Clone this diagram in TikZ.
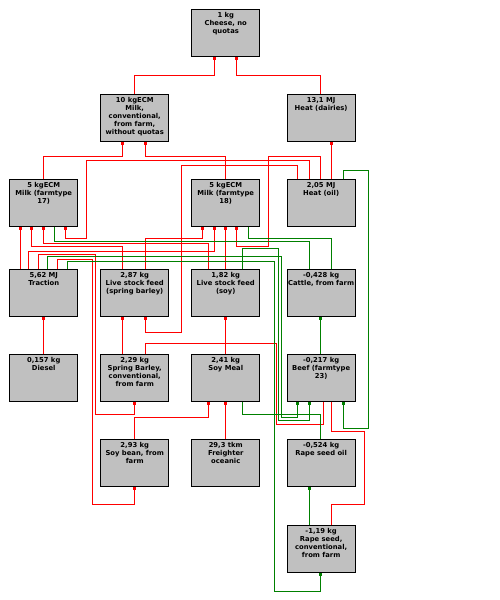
\documentclass[tikz,border=0pt]{standalone}
\usepackage{fontspec}
\setmainfont{DejaVu Sans}
\usetikzlibrary{arrows.meta}
\definecolor{boxgray}{RGB}{192,192,192}
\definecolor{lred}{RGB}{255,0,0}
\definecolor{lgreen}{RGB}{0,128,0}
\newcommand{\bxt}[1]{\parbox[t][41pt][t]{66pt}{\centering #1}}
\begin{document}
\begin{tikzpicture}[x=1pt,y=-1pt,
  box/.style={draw=black, fill=boxgray, line width=0.9pt, minimum width=68pt, minimum height=47pt,
    inner xsep=1pt, inner ysep=2.5pt, anchor=north west, text=black,
    font=\fontsize{6.8}{8}\selectfont\bfseries},
  rl/.style={draw=lred, line width=0.9pt},
  gl/.style={draw=lgreen, line width=0.9pt},
  rarr/.style={rl, -{Rectangle[length=2.4pt,width=3pt]}},
  garr/.style={gl, -{Rectangle[length=2.4pt,width=3pt]}}]
\fill[white] (0,0) rectangle (500,600);
\useasboundingbox (0,0) rectangle (500,600);

\node[box] (cheese)   at (191.3,9.3)  {\bxt{1 kg\\Cheese, no\\quotas}};
\node[box] (milkconv) at (100.3,94.3) {\bxt{10 kgECM\\Milk,\\conventional,\\from farm,\\without quotas}};
\node[box] (heatd)    at (286.7,94.3) {\bxt{13,1 MJ\\Heat (dairies)}};
\node[box] (milk17)   at (9.3,179.3)  {\bxt{5 kgECM\\Milk (farmtype\\17)}};
\node[box] (milk18)   at (191.3,179.3){\bxt{5 kgECM\\Milk (farmtype\\18)}};
\node[box] (heatoil)  at (286.7,179.3){\bxt{2,05 MJ\\Heat (oil)}};
\node[box] (traction) at (9.3,269.3)  {\bxt{5,62 MJ\\Traction}};
\node[box] (lsfb)     at (100.3,269.3){\bxt{2,87 kg\\Live stock feed\\(spring barley)}};
\node[box] (lsfs)     at (191.3,269.3){\bxt{1,82 kg\\Live stock feed\\(soy)}};
\node[box] (cattle)   at (286.7,269.3){\bxt{-0,428 kg\\Cattle, from farm}};
\node[box] (diesel)   at (9.3,354.3)  {\bxt{0,157 kg\\Diesel}};
\node[box] (sbarley)  at (100.3,354.3){\bxt{2,29 kg\\Spring Barley,\\conventional,\\from farm}};
\node[box] (soymeal)  at (191.3,354.3){\bxt{2,41 kg\\Soy Meal}};
\node[box] (beef)     at (286.7,354.3){\bxt{-0,217 kg\\Beef (farmtype\\23)}};
\node[box] (soybean)  at (100.3,439.3){\bxt{2,93 kg\\Soy bean, from\\farm}};
\node[box] (freighter)at (191.3,439.3){\bxt{29,3 tkm\\Freighter\\oceanic}};
\node[box] (rsoil)    at (286.7,439.3){\bxt{-0,524 kg\\Rape seed oil}};
\node[box] (rseed)    at (286.7,525.3){\bxt{-1,19 kg\\Rape seed,\\conventional,\\from farm}};

% red connectors with tips
\draw[rarr] (milkconv.north -| 134.3,0) |- (214.3,75) -- (cheese.south -| 214.3,0);
\draw[rarr] (heatd.north -| 320.3,0) |- (236.3,75) -- (cheese.south -| 236.3,0);
\draw[rarr] (milk17.north -| 43.3,0) |- (122.3,156) -- (milkconv.south -| 122.3,0);
\draw[rarr] (milk18.north -| 225.7,0) |- (145.3,156) -- (milkconv.south -| 145.3,0);
\draw[rarr] (heatoil.north -| 331.3,0) -- (heatd.south -| 331.3,0);
\draw[rarr] (heatoil.north -| 320,0) |- (268.3,156) |- (236.7,246.7) -- (milk18.south -| 236.7,0);
\draw[rarr] (heatoil.north -| 309.3,0) |- (86.7,160.7) |- (65.3,238.7) -- (milk17.south -| 65.3,0);
\draw[rarr] (heatoil.north -| 297.5,0) |- (181.7,165.7) |- (145.7,332.3) -- (lsfb.south -| 145.7,0);
\draw[rarr] (traction.north -| 20.7,0) -- (milk17.south -| 20.7,0);
\draw[rarr] (traction.north -| 28.3,0) |- (214.3,251.5) -- (milk18.south -| 214.3,0);
\draw[rarr] (lsfb.north -| 122.7,0) |- (31.3,246.7) -- (milk17.south -| 31.3,0);
\draw[rarr] (lsfs.north -| 208.3,0) |- (43.3,243.3) -- (milk17.south -| 43.3,0);
\draw[rarr] (lsfb.north -| 145.7,0) |- (202.3,238.7) -- (milk18.south -| 202.3,0);
\draw[rarr] (lsfs.north -| 225.3,0) -- (milk18.south -| 225.3,0);
\draw[rarr] (traction.north -| 38.3,0) |- (95.7,254.8) |- (134.3,414.3) -- (sbarley.south -| 134.3,0);
\draw[rarr] (traction.north -| 57.7,0) |- (92.3,259.3) |- (134.3,504) -- (soybean.south -| 134.3,0);
\draw[rarr] (sbarley.north -| 122.3,0) -- (lsfb.south -| 122.3,0);
\draw[rarr] (soymeal.north -| 225.7,0) -- (lsfs.south -| 225.7,0);
\draw[rarr] (soybean.north -| 134.3,0) |- (208.3,417.3) -- (soymeal.south -| 208.3,0);
\draw[rarr] (freighter.north -| 225.7,0) -- (soymeal.south -| 225.7,0);
\draw[rarr] (diesel.north -| 43.3,0) -- (traction.south -| 43.3,0);
% red connectors without tips
\draw[rl] (sbarley.north -| 145.7,0) |- (276,343.3) |- (323.3,424.3) -- (beef.south -| 323.3,0);
\draw[rl] (rseed.north -| 331.7,0) |- (364.3,504) |- (331.7,431) -- (beef.south -| 331.7,0);
% green connectors with tips
\draw[garr] (beef.north -| 320.3,0) -- (cattle.south -| 320.3,0);
\draw[garr] (heatoil.north -| 343.3,0) |- (368.3,170.7) |- (343.3,428.3) -- (beef.south -| 343.3,0);
\draw[garr] (traction.north -| 47.7,0) |- (281.3,256.3) |- (297.7,417.3) -- (beef.south -| 297.7,0);
\draw[garr] (lsfs.north -| 242.3,0) |- (278.7,248.3) |- (309.3,420.7) -- (beef.south -| 309.3,0);
\draw[garr] (traction.north -| 67.7,0) |- (274.3,261.3) |- (320.3,591) -- (rseed.south -| 320.3,0);
\draw[garr] (rseed.north -| 309.3,0) -- (rsoil.south -| 309.3,0);
% green connectors without tips
\draw[gl] (milk17.south -| 54.3,0) |- (309.3,241) -- (cattle.north -| 309.3,0);
\draw[gl] (milk18.south -| 248.3,0) |- (331.3,238.3) -- (cattle.north -| 331.3,0);
\draw[gl] (soymeal.south -| 242.3,0) |- (320.3,414.3) -- (rsoil.north -| 320.3,0);
\end{tikzpicture}
\end{document}
